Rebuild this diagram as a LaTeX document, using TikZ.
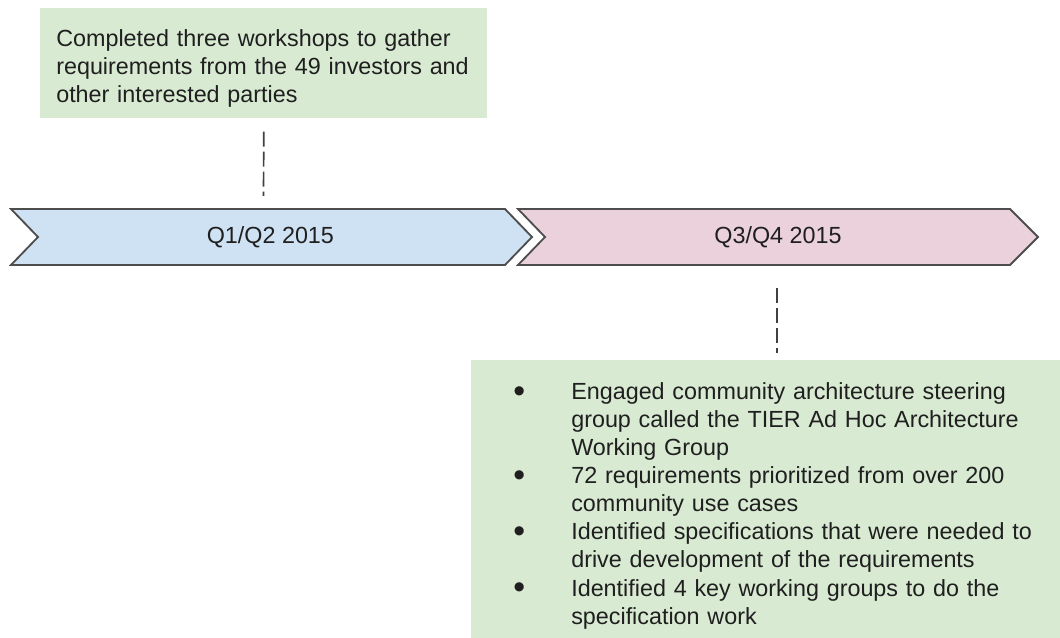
\documentclass[tikz,border=0pt]{standalone}
\usepackage{fontspec}
\setmainfont{Liberation Sans}
\usepackage{xcolor}
\usepackage{tikz}

\definecolor{notegreen}{HTML}{D9EAD3}
\definecolor{firstblue}{HTML}{CFE2F3}
\definecolor{secondpink}{HTML}{EAD1DC}
\definecolor{edgegray}{HTML}{4D4D4D}
\definecolor{inkgray}{HTML}{1F1F1F}

\begin{document}
\begin{tikzpicture}[
    every node/.style={font=\fontsize{16.6pt}{20pt}\selectfont, text=inkgray},
    note/.style={rectangle, fill=notegreen, anchor=north west, inner ysep=0pt},
    phase/.style={draw=edgegray, line width=1.3pt, line join=miter},
    link/.style={draw=black!75, line width=1.2pt, dash pattern=on 0.375cm off 0.125cm}
]
\useasboundingbox (0,0) rectangle (26.5,15.925);

% Notes
\node[note, align=left, text width=10.375cm, inner xsep=0.4cm, text height=0.95cm, text depth=1.8cm] (early) at (1.0,15.725)
    {Completed three workshops to gather\\requirements from the 49 investors and\\other interested parties};
\node[note, text width=12.8cm, inner xsep=1.05cm, text height=0.975cm, text depth=6.1cm] (late) at (11.775,6.925)
    {\begin{tabular}[t]{@{}p{1.45cm}@{}l@{}}
    \raisebox{-2pt}{\fontsize{24pt}{20pt}\selectfont\textbullet} & Engaged community architecture steering\\
                & group called the TIER Ad Hoc Architecture\\
                & Working Group\\
    \raisebox{-2pt}{\fontsize{24pt}{20pt}\selectfont\textbullet} & 72 requirements prioritized from over 200\\
                & community use cases\\
    \raisebox{-2pt}{\fontsize{24pt}{20pt}\selectfont\textbullet} & Identified specifications that were needed to\\
                & drive development of the requirements\\
    \raisebox{-2pt}{\fontsize{24pt}{20pt}\selectfont\textbullet} & Identified 4 key working groups to do the\\
                & specification work
    \end{tabular}};

% Phases
\draw[phase, fill=firstblue] (0.275,10.7) -- (12.625,10.7) -- (13.3,10) -- (12.625,9.3) -- (0.275,9.3) -- (0.95,10) -- cycle;
\draw[phase, fill=secondpink] (12.95,10.7) -- (25.25,10.7) -- (25.95,10) -- (25.25,9.3) -- (12.95,9.3) -- (13.625,10) -- cycle;
\node (h1) at (6.76,10) {Q1/Q2 2015};
\node (h2) at (19.45,10) {Q3/Q4 2015};
\coordinate (h1top) at (6.5875,10.7);
\coordinate (h2bot) at (19.425,9.3);

% Links
\draw[link, shorten <=0.325cm, shorten >=0.325cm] (early.south) -- (h1top);
\draw[link, shorten <=0.575cm, shorten >=0.175cm] (h2bot) -- (h2bot |- late.north);

\end{tikzpicture}
\end{document}
